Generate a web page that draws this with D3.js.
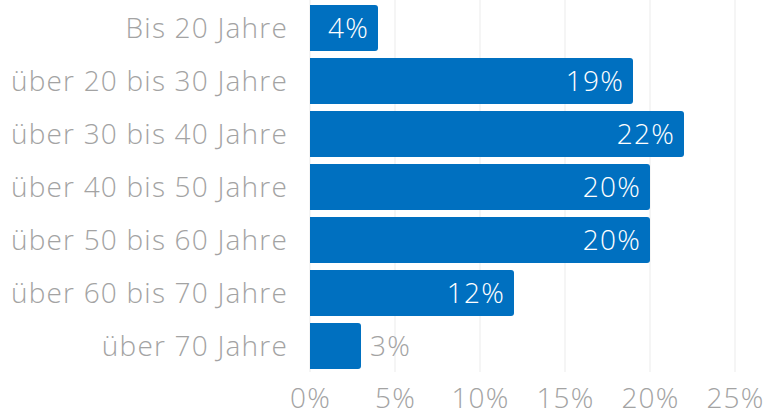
<!DOCTYPE html>
<html>
<head>
<meta charset="utf-8">
<script src="https://cdn.jsdelivr.net/npm/d3@7"></script>
<style>
  body { margin: 0; background: #fff; }
  text { font-family: "Open Sans", sans-serif; font-weight: 300; letter-spacing: 1.2px; }
</style>
</head>
<body>
<div id="chart"></div>
<script>
const categories = ["Bis 20 Jahre", "über 20 bis 30 Jahre", "über 30 bis 40 Jahre", "über 40 bis 50 Jahre", "über 50 bis 60 Jahre", "über 60 bis 70 Jahre", "über 70 Jahre"];
const values = [4, 19, 22, 20, 20, 12, 3];
const ticks = [0, 5, 10, 15, 20, 25];

const width = 764, height = 416;
const svg = d3.select("#chart").append("svg")
  .attr("width", width)
  .attr("height", height);

// skala
const x = d3.scaleLinear().domain([0, 25]).range([310, 735]);
const y = d3.scaleBand().domain(categories).range([1.5, 372.5]).paddingInner(0.132).paddingOuter(0.066);

// gitterlinien
svg.append("g")
  .selectAll("line")
  .data(ticks)
  .join("line")
  .attr("x1", d => x(d)).attr("x2", d => x(d))
  .attr("y1", 0).attr("y2", 372)
  .attr("stroke", "#ebebeb")
  .attr("stroke-width", 1);

// balken
const data = categories.map((c, i) => ({ cat: c, val: values[i] }));
svg.append("g")
  .selectAll("path")
  .data(data)
  .join("path")
  .attr("fill", "#0070c0")
  .attr("d", d => {
    const x0 = x(0), x1 = x(d.val), y0 = y(d.cat), h = y.bandwidth(), r = 3;
    return `M${x0},${y0}H${x1 - r}Q${x1},${y0} ${x1},${y0 + r}V${y0 + h - r}Q${x1},${y0 + h} ${x1 - r},${y0 + h}H${x0}Z`;
  });

// werte
svg.append("g")
  .selectAll("text")
  .data(data)
  .join("text")
  .attr("x", d => d.val < 4 ? x(d.val) + 9 : x(d.val) - 9)
  .attr("y", d => y(d.cat) + y.bandwidth() / 2)
  .attr("dy", "0.36em")
  .attr("text-anchor", d => d.val < 4 ? "start" : "end")
  .attr("fill", d => d.val < 4 ? "#a3a3a3" : "#fff")
  .style("font-size", "28px")
  .text(d => d.val + "%");

// kategorien
svg.append("g")
  .selectAll("text")
  .data(categories)
  .join("text")
  .attr("x", 288)
  .attr("y", d => y(d) + y.bandwidth() / 2)
  .attr("dy", "0.37em")
  .attr("text-anchor", "end")
  .attr("fill", "#a3a3a3")
  .style("font-size", "28px")
  .text(d => d);

// x-achse
const xAxis = svg.append("g")
  .attr("transform", "translate(0, 372)")
  .call(d3.axisBottom(x).tickValues(ticks).tickFormat(d => d + "%").tickSize(0));
xAxis.select(".domain").remove();
xAxis.selectAll("text")
  .attr("y", 36)
  .attr("dy", 0)
  .attr("fill", "#a3a3a3")
  .style("font-size", "28px")
  .style("font-family", "'Open Sans', sans-serif");
</script>
</body>
</html>
